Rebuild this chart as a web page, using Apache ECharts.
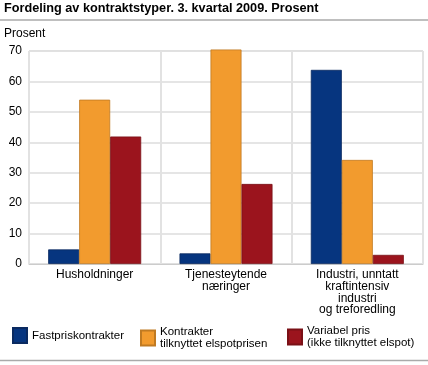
<!DOCTYPE html>
<html><head><meta charset="utf-8">
<script src="https://cdn.jsdelivr.net/npm/echarts@6/dist/echarts.min.js"></script>
<style>html,body{margin:0;padding:0;background:#fff}#c{width:428px;height:365px}</style>
</head><body><div id="c"></div>
<script>
const categories = ['Husholdninger', 'Tjenesteytende\nnæringer', 'Industri, unntatt\nkraftintensiv\nindustri\nog treforedling'];
const seriesNames = ['Fastpriskontrakter', 'Kontrakter\ntilknyttet elspotprisen', 'Variabel pris\n(ikke tilknyttet elspot)'];
const fastpris = [4.8, 3.5, 63.8];
const kontrakter = [54.0, 70.5, 34.2];
const variabel = [41.9, 26.3, 3.0];
const yTicks = [0, 10, 20, 30, 40, 50, 60, 70];

const font = '"Liberation Sans", Arial, sans-serif';
const colors = ['#06357f', '#f29b2e', '#9b141d'];
const borders = ['#0a2a60', '#c07a22', '#7a1016'];
const chart = echarts.init(document.getElementById('c'), null, {renderer: 'canvas'});
const data = [fastpris, kontrakter, variabel];
const legendLeft = [12, 140, 287];
const legendTop = [327, 326, 325];
chart.setOption({
  animation: false,
  textStyle: {fontFamily: font},
  title: {text: 'Fordeling av kontraktstyper. 3. kvartal 2009. Prosent', left: 4, top: 2, padding: 0,
    textStyle: {fontSize: 12.7, fontWeight: 'bold', color: '#000', fontFamily: font}},
  graphic: [
    {type: 'line', shape: {x1: 0, y1: 20, x2: 428, y2: 20}, style: {stroke: '#aaa', lineWidth: 1.5}},
    {type: 'line', shape: {x1: 0, y1: 360.5, x2: 428, y2: 360.5}, style: {stroke: '#aaa', lineWidth: 1.5}},
    {type: 'text', left: 4, top: 28, style: {text: 'Prosent', fontSize: 12, fill: '#000', fontFamily: font}}
  ],
  grid: {left: 29, right: 5, top: 51, bottom: 101, containLabel: false, show: true, borderColor: '#ddd', borderWidth: 1},
  legend: [0, 1, 2].map(i => ({
    data: [seriesNames[i]], left: legendLeft[i], top: legendTop[i], padding: 0, icon: 'rect', itemWidth: 14, itemHeight: 15,
    itemGap: 5, selectedMode: false,
    textStyle: {fontSize: 11.5, color: '#000', fontFamily: font, lineHeight: 12}
  })),
  xAxis: {type: 'category', data: categories,
    axisLine: {show: true, lineStyle: {color: '#ccc'}}, axisTick: {show: false},
    splitLine: {show: true, lineStyle: {color: '#e2e2e2', width: 2}},
    axisLabel: {fontSize: 12, color: '#000', lineHeight: 11.7, margin: 5, interval: 0, fontFamily: font}},
  yAxis: {type: 'value', min: 0, max: 70, interval: 10,
    axisLine: {show: false}, axisTick: {show: false},
    splitLine: {lineStyle: {color: '#ddd', width: 1.5}},
    axisLabel: {fontSize: 12, color: '#000', margin: 7, fontFamily: font,
      formatter: v => yTicks.includes(v) ? String(v) : ''}},
  series: [0, 1, 2].map(i => ({
    name: seriesNames[i], type: 'bar', data: data[i], barWidth: 31, barGap: '0%', clip: false,
    itemStyle: {color: colors[i], borderColor: borders[i], borderWidth: 0.8}
  }))
});
</script></body></html>
